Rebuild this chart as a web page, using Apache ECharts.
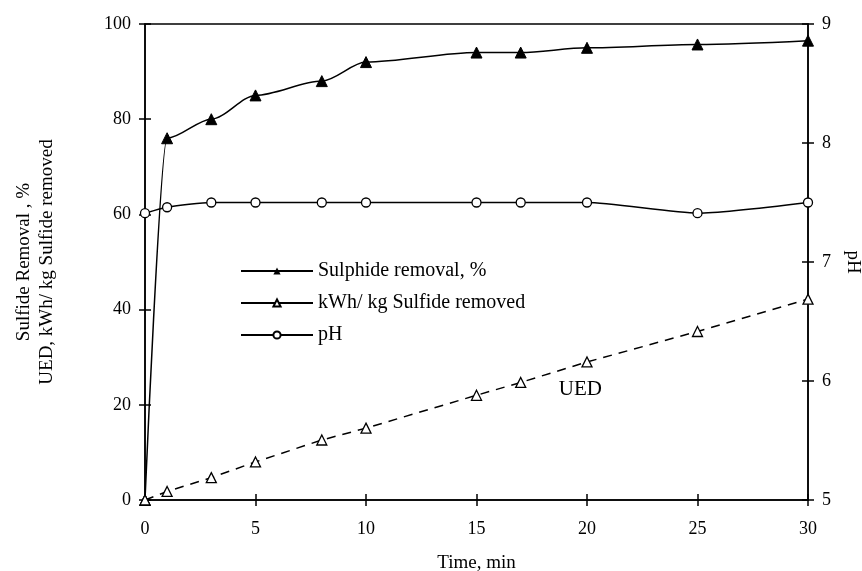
<!DOCTYPE html>
<html style="height: 100%">
   <head>
       <meta charset="utf-8">
       <title>Sulphide removal</title>
   </head>
   <body style="height: 100%; margin: 0; background: #fff">
       <div id="container" style="width: 862px; height: 571px"></div>
       <script type="text/javascript" src="https://cdn.jsdelivr.net/npm/echarts@6/dist/echarts.min.js"></script>
       <script type="text/javascript">
var timeMin = [0, 1, 3, 5, 8, 10, 15, 17, 20, 25, 30];
var sulphideRemoval = [0, 76, 80, 85, 88, 92, 94, 94, 95, 95.7, 96.5];
var uedKwh = [0, 1.8, 4.7, 8, 12.6, 15.1, 22, 24.7, 29, 35.4, 42.2];
var phValues = [7.41, 7.46, 7.5, 7.5, 7.5, 7.5, 7.5, 7.5, 7.5, 7.41, 7.5];

var pairs = function (ys) {
    var res = [];
    for (var i = 0; i < timeMin.length; i++) {
        res.push([timeMin[i], ys[i]]);
    }
    return res;
};

var dom = document.getElementById("container");
var myChart = echarts.init(dom);
var serif = 'Liberation Serif';
var black = '#000';
var tickStyle = { color: black, width: 1.5 };
var labelStyle = { fontFamily: serif, fontSize: 18, color: black, margin: 14 };

// second grid on top of the first: only carries the inward half of each tick
var gridBox = { left: 145, right: 54, top: 24, bottom: 71, outerBoundsMode: 'none' };

var option = {
    backgroundColor: '#fff',
    animation: false,
    textStyle: { fontFamily: serif, color: black },
    grid: [
        Object.assign({ show: true, borderColor: black, borderWidth: 1.5 }, gridBox),
        Object.assign({}, gridBox)
    ],
    legend: {
        orient: 'vertical',
        left: 235,
        top: 256,
        itemWidth: 72,
        itemHeight: 9,
        itemGap: 12,
        textStyle: { fontFamily: serif, fontSize: 20, color: black },
        data: [
            { name: 'Sulphide removal, %', lineStyle: { type: 'solid' } },
            { name: 'kWh/ kg Sulfide removed', lineStyle: { type: 'solid' } },
            { name: 'pH', lineStyle: { type: 'solid' } }
        ]
    },
    xAxis: [
        {
            type: 'value',
            min: 0,
            max: 30,
            interval: 5,
            name: 'Time, min',
            nameLocation: 'middle',
            nameGap: 54,
            nameTextStyle: { fontFamily: serif, fontSize: 19, color: black },
            axisLine: { lineStyle: tickStyle },
            axisTick: { length: 6, lineStyle: tickStyle },
            axisLabel: Object.assign({}, labelStyle, { margin: 20 }),
            splitLine: { show: false }
        },
        {
            type: 'value',
            gridIndex: 1,
            min: 0,
            max: 30,
            interval: 5,
            position: 'bottom',
            axisLine: { show: false },
            axisTick: { inside: true, length: 6, lineStyle: tickStyle },
            axisLabel: { show: false },
            splitLine: { show: false }
        }
    ],
    yAxis: [
        {
            type: 'value',
            min: 0,
            max: 100,
            interval: 20,
            position: 'left',
            name: 'Sulfide Removal , %\nUED, kWh/ kg Sulfide removed',
            nameLocation: 'middle',
            nameRotate: 90,
            nameGap: 86,
            nameTextStyle: { fontFamily: serif, fontSize: 19, color: black, lineHeight: 23 },
            axisLine: { lineStyle: tickStyle },
            axisTick: { length: 6, lineStyle: tickStyle },
            axisLabel: labelStyle,
            splitLine: { show: false }
        },
        {
            type: 'value',
            min: 5,
            max: 9,
            interval: 1,
            position: 'right',
            name: 'pH',
            nameLocation: 'middle',
            nameRotate: -90,
            nameGap: 35,
            nameTextStyle: { fontFamily: serif, fontSize: 19, color: black },
            axisLine: { lineStyle: tickStyle },
            axisTick: { length: 6, lineStyle: tickStyle },
            axisLabel: labelStyle,
            splitLine: { show: false }
        },
        {
            type: 'value',
            gridIndex: 1,
            min: 0,
            max: 100,
            interval: 20,
            position: 'left',
            axisLine: { show: false },
            axisTick: { inside: true, length: 6, lineStyle: tickStyle },
            axisLabel: { show: false },
            splitLine: { show: false }
        },
        {
            type: 'value',
            gridIndex: 1,
            min: 5,
            max: 9,
            interval: 1,
            position: 'right',
            axisLine: { show: false },
            axisTick: { inside: true, length: 6, lineStyle: tickStyle },
            axisLabel: { show: false },
            splitLine: { show: false }
        }
    ],
    series: [
        {
            name: 'Sulphide removal, %',
            type: 'line',
            yAxisIndex: 0,
            data: pairs(sulphideRemoval),
            smooth: 0.3,
            smoothMonotone: 'x',
            symbol: 'triangle',
            symbolSize: 11,
            itemStyle: { color: black, borderColor: black },
            lineStyle: { color: black, width: 1.5 }
        },
        {
            name: 'kWh/ kg Sulfide removed',
            type: 'line',
            yAxisIndex: 0,
            data: pairs(uedKwh),
            symbol: 'triangle',
            symbolSize: 10,
            itemStyle: { color: '#fff', borderColor: black, borderWidth: 1.3 },
            lineStyle: { color: black, width: 1.5, type: [9, 7] },
            markPoint: {
                symbol: 'circle',
                symbolSize: 1,
                itemStyle: { color: 'rgba(0,0,0,0)' },
                data: [{ coord: [19.7, 23.3], value: 'UED' }],
                label: { show: true, position: 'inside', formatter: 'UED', fontFamily: serif, fontSize: 21, color: black }
            }
        },
        {
            name: 'pH',
            type: 'line',
            yAxisIndex: 1,
            data: pairs(phValues),
            smooth: 0.2,
            symbol: 'circle',
            symbolSize: 9,
            itemStyle: { color: '#fff', borderColor: black, borderWidth: 1.3 },
            lineStyle: { color: black, width: 1.5 }
        }
    ]
};
myChart.setOption(option, true);
       </script>
   </body>
</html>
